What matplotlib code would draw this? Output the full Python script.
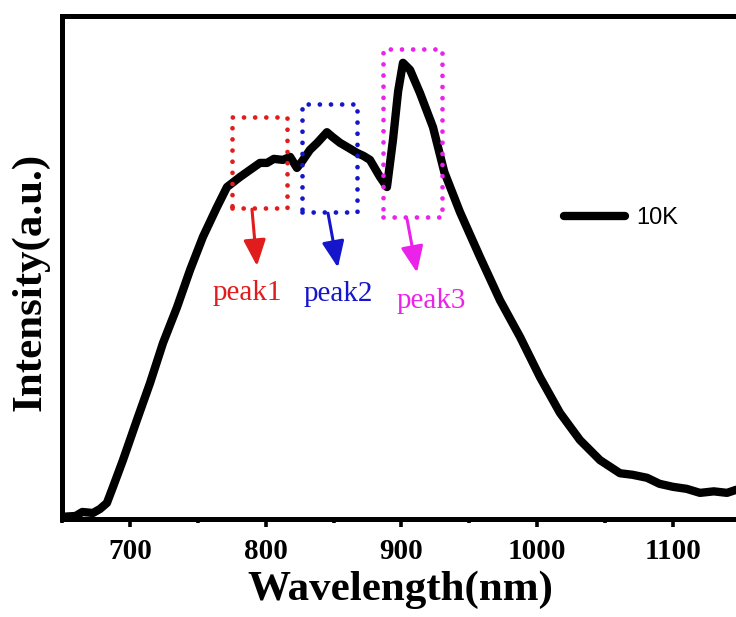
## --- PL SPECTRUM AT 10K --- ##
""" Photoluminescence spectrum measured at 10K with the three
    emission peaks marked by dotted boxes and arrows """

import matplotlib
matplotlib.use('Agg')
import matplotlib.pyplot as plt
from matplotlib.patches import Rectangle
from matplotlib.ticker import MultipleLocator

# -- SPECTRUM (wavelength in nm, normalised intensity) -- #
wavelength = [650.0, 653.5, 660.0, 665.0, 672.8, 678.0, 683.1, 687.6, 694.9,
              705.2, 714.8, 724.4, 734.7, 744.3, 753.8, 764.1, 771.5, 781.1,
              788.4, 795.8, 801.0, 806.0, 812.7, 818.0, 823.0, 827.0, 832.6,
              838.0, 845.1, 849.0, 854.7, 861.0, 867.2, 872.0, 876.8, 884.2,
              889.3, 893.7, 897.5, 901.1, 906.3, 913.6, 923.2, 931.5, 943.1,
              957.8, 972.5, 987.3, 1002.0, 1016.7, 1031.4, 1046.2, 1060.9,
              1070.0, 1080.8, 1090.0, 1099.9, 1110.0, 1119.8, 1130.0, 1139.7,
              1146.3, 1150.0]
intensity = [0.004, 0.005, 0.006, 0.014, 0.012, 0.020, 0.032, 0.064, 0.117,
             0.197, 0.270, 0.350, 0.421, 0.495, 0.561, 0.620, 0.660, 0.680,
             0.694, 0.708, 0.708, 0.716, 0.714, 0.720, 0.698, 0.712, 0.734,
             0.748, 0.769, 0.760, 0.748, 0.738, 0.728, 0.722, 0.714, 0.680,
             0.660, 0.753, 0.850, 0.907, 0.893, 0.847, 0.779, 0.690, 0.610,
             0.521, 0.435, 0.362, 0.282, 0.211, 0.157, 0.117, 0.091, 0.088,
             0.082, 0.070, 0.064, 0.060, 0.052, 0.055, 0.052, 0.058, 0.056]

# -- PEAK MARKERS -- #
peak_names = ['peak1', 'peak2', 'peak3']
peak_colors = ['#e01c1c', '#1515cc', '#ea22ea']
box_left = [775.2, 826.7, 886.4]
box_right = [815.7, 867.2, 929.8]
box_bottom = [0.618, 0.610, 0.600]
box_top = [0.799, 0.825, 0.934]
arrow_start = [(789.9, 0.616), (845.9, 0.608), (904.1, 0.596)]
arrow_end = [(793.6, 0.503), (853.2, 0.500), (911.4, 0.490)]
label_pos = [(786.2, 0.450), (853.2, 0.448), (921.7, 0.434)]

# -- AXES LIMITS AND TICKS -- #
x_range = (650, 1150)
y_range = (0.0, 1.0)
x_ticks = [700, 800, 900, 1000, 1100]


def main():
    fig = plt.figure(figsize=(7.36, 6.17), dpi=100)
    ax = fig.add_axes([0.0842, 0.1588, 0.9226, 0.8152])

    ax.plot(wavelength, intensity, '-', color='black', linewidth=6.0,
            solid_joinstyle='round', solid_capstyle='round', label='10K')

    # -- DOTTED BOXES, ARROWS AND LABELS -- #
    for i in range(len(peak_names)):
        box = Rectangle((box_left[i], box_bottom[i]),
                        box_right[i] - box_left[i], box_top[i] - box_bottom[i],
                        fill=False, edgecolor=peak_colors[i], linewidth=3.4,
                        linestyle=(0, (0.01, 2.35)), capstyle='round', zorder=3)
        ax.add_patch(box)
        ax.annotate('', xy=arrow_end[i], xytext=arrow_start[i],
                    arrowprops=dict(arrowstyle='-|>,head_length=0.8,head_width=0.34',
                                    color=peak_colors[i], lw=2.2,
                                    mutation_scale=20, shrinkA=0, shrinkB=0))
        ax.text(label_pos[i][0], label_pos[i][1], peak_names[i],
                color=peak_colors[i], fontsize=21, family='Liberation Serif',
                ha='center', va='center')

    ax.set_xlim(x_range)
    ax.set_ylim(y_range)
    ax.set_xticks(x_ticks)
    ax.xaxis.set_minor_locator(MultipleLocator(50))
    ax.set_yticks([])
    ax.tick_params(axis='x', which='major', direction='out', length=6,
                   width=2.6, pad=8, labelsize=21)
    ax.tick_params(axis='x', which='minor', direction='out', length=3,
                   width=2.6)
    for lab in ax.get_xticklabels():
        lab.set_fontfamily('Liberation Serif')
        lab.set_fontweight('bold')
    for side in ['left', 'right', 'top', 'bottom']:
        ax.spines[side].set_linewidth(3.6)

    ax.set_xlabel('Wavelength(nm)', fontsize=31, fontweight='bold',
                  family='Liberation Serif', va='center')
    ax.xaxis.set_label_coords(0.498, -0.141)
    ax.set_ylabel('Intensity(a.u.)', fontsize=31, fontweight='bold',
                  family='Liberation Serif', va='center')
    ax.yaxis.set_label_coords(-0.047, 0.471)

    ax.legend(loc='center left', bbox_to_anchor=(0.708, 0.598),
              frameon=False, handlelength=2.6, handletextpad=0.45,
              prop={'family': 'Liberation Sans', 'size': 17})

    fig.savefig('out.png', dpi=100)
    plt.close(fig)


if __name__ == '__main__':
    main()
